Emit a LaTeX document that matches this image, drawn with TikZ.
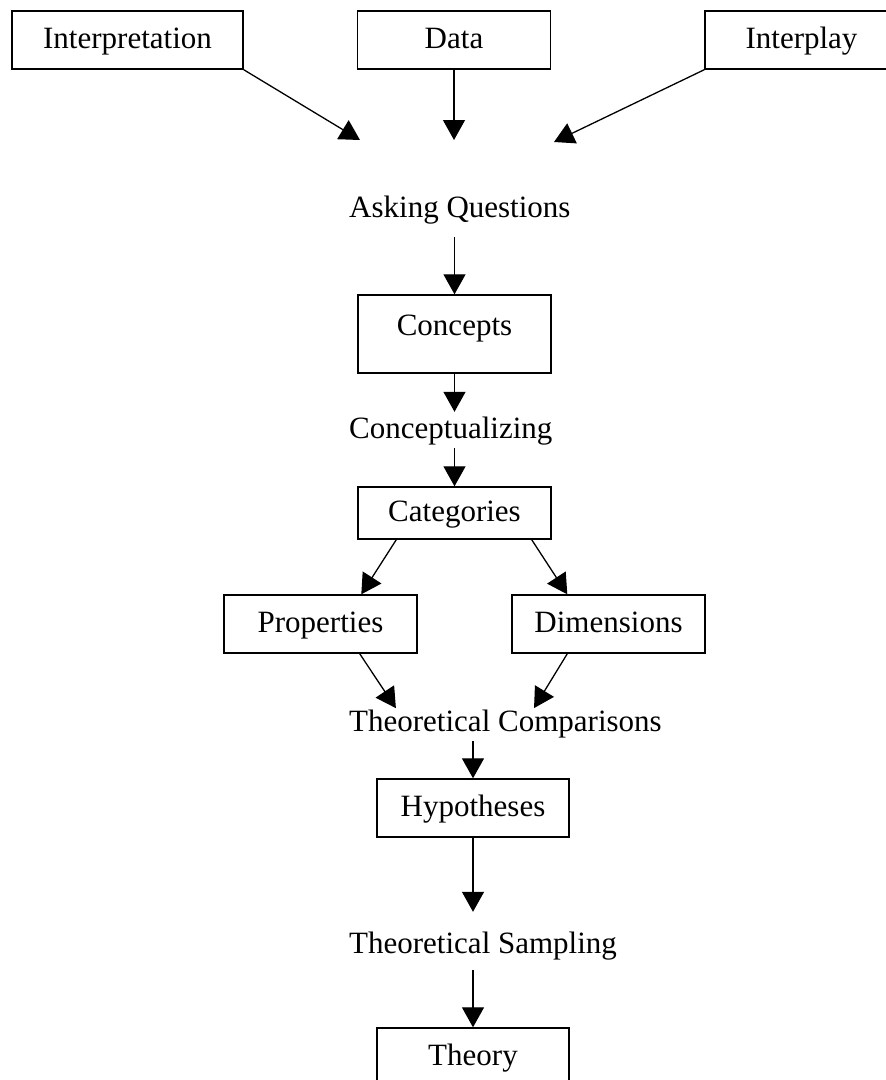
\documentclass[tikz,border=0pt]{standalone}
\usepackage{fontspec}
\setmainfont{Liberation Serif}
\usetikzlibrary{arrows.meta}
\begin{document}
\begin{tikzpicture}[x=1pt,y=-1pt,
  every node/.style={font=\fontsize{31}{36}\selectfont, inner sep=0pt,
    text height=21pt, text depth=7pt},
  box/.style={draw, line width=1.4pt, minimum width=193pt, minimum height=58pt,
    text height=22pt, text depth=6pt},
  lbl/.style={anchor=base west},
  arr/.style={line width=1.3pt, -{Triangle[length=20pt,width=22pt]}}]
\useasboundingbox (0,0) rectangle (886,1080);
\clip (0,0) rectangle (886,1080);

% sources
\node[box, minimum width=231pt] (interp) at (127.5,40) {Interpretation};
\node[box] (data) at (454,40) {Data};
\node[box] (interplay) at (801.5,40) {Interplay};

% process chain
\node[lbl] (ask) at (349,217) {Asking Questions};
\node[box, minimum height=78pt, text height=40pt, text depth=38pt] (concepts) at (454.5,334) {Concepts};
\node[lbl] (conc) at (349,438) {Conceptualizing};
\node[box, minimum height=52pt] (cat) at (454.5,513) {Categories};
\node[box] (props) at (320.5,624) {Properties};
\node[box] (dims) at (608.5,624) {Dimensions};
\node[lbl] (tc) at (349,731) {Theoretical Comparisons};
\node[box, minimum width=192pt] (hyp) at (473,808) {Hypotheses};
\node[lbl] (ts) at (349,953) {Theoretical Sampling};
\node[box, minimum width=192pt] (theory) at (473,1057) {Theory};

% arrow tips above the first label
\coordinate (tipA) at (360,140);
\coordinate (tipB) at (454,140);
\coordinate (tipC) at (554,142);

\draw[arr] (interp.south east) -- (tipA);
\draw[arr] (data.south) -- (tipB);
\draw[arr] (interplay.south west) -- (tipC);

\draw[arr, shorten <=13pt] (concepts.north |- ask.south) -- (concepts.north);
\draw[arr, shorten >=5pt] (concepts.south) -- (concepts.south |- conc.north);
\draw[arr, shorten <=3pt] (cat.north |- conc.south) -- (cat.north);
\draw[arr] ([xshift=39pt]cat.south west) -- ([xshift=138pt]props.north west);
\draw[arr] ([xshift=-20pt]cat.south east) -- ([xshift=56pt]dims.north west);
\draw[arr, shorten >=2pt] ([xshift=-58pt]props.south east) -- ([xshift=48pt]tc.north west);
\draw[arr, shorten >=2pt] ([xshift=56pt]dims.south west) -- ([xshift=184pt]tc.north west);
\draw[arr, shorten <=3pt] (hyp.north |- tc.south) -- (hyp.north);
\draw[arr, shorten >=20pt] (hyp.south) -- (hyp.south |- ts.north);
\draw[arr, shorten <=10pt] (theory.north |- ts.south) -- (theory.north);
\end{tikzpicture}
\end{document}
